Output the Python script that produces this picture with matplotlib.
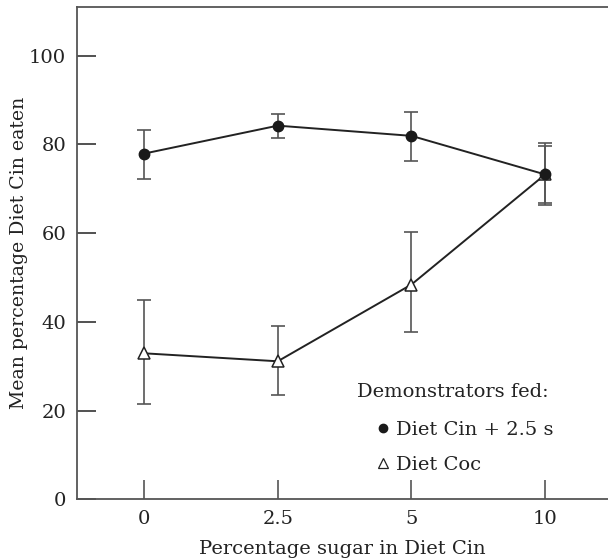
import numpy as np
import matplotlib
matplotlib.use("Agg")
import matplotlib.pyplot as plt
from matplotlib.lines import Line2D

plt.rcParams['font.family'] = ['DejaVu Serif']

# sugar levels (categorical positions on x)
sugar = ['0', '2.5', '5', '10']

# demonstrators fed Diet Cin + 2.5 s
cin_mean = [77.9, 84.2, 81.9, 73.2]
cin_hi = [83.3, 86.8, 87.2, 80.3]
cin_lo = [72.1, 81.4, 76.3, 66.8]

# demonstrators fed Diet Coc
coc_mean = [32.9, 31.1, 48.4, 73.2]
coc_hi = [44.9, 39.0, 60.2, 79.6]
coc_lo = [21.5, 23.5, 37.6, 66.4]

yticks = [0, 20, 40, 60, 80, 100]

fig = plt.figure(figsize=(6.08, 5.60), dpi=100)
ax = fig.add_axes([0.127, 0.1084, 0.873, 0.8796])

x = np.arange(len(sugar))
cin_err = [np.array(cin_mean) - np.array(cin_lo), np.array(cin_hi) - np.array(cin_mean)]
coc_err = [np.array(coc_mean) - np.array(coc_lo), np.array(coc_hi) - np.array(coc_mean)]

ax.errorbar(x, coc_mean, yerr=coc_err, fmt='-', color='#222222', lw=1.4,
            ecolor='#555555', elinewidth=1.2, capsize=4.7, capthick=1.2, zorder=2)
ax.plot(x, coc_mean, linestyle='none', marker='^', ms=8.5, mfc='white',
        mec='#222222', mew=1.1, zorder=3)
ax.errorbar(x, cin_mean, yerr=cin_err, fmt='-', color='#222222', lw=1.4,
            ecolor='#555555', elinewidth=1.2, capsize=4.7, capthick=1.2, zorder=4)
ax.plot(x, cin_mean, linestyle='none', marker='o', ms=7.5, mfc='#1a1a1a',
        mec='#1a1a1a', zorder=5)

ax.set_xlim(-0.5, 3.47)
ax.set_ylim(0, 111)
ax.set_xticks(x)
ax.set_xticklabels(sugar)
ax.set_yticks(yticks)

for side in ['left', 'top', 'bottom']:
    ax.spines[side].set_color('#555555')
    ax.spines[side].set_linewidth(1.3)
ax.spines['right'].set_visible(False)

ax.tick_params(axis='both', direction='in', length=14, width=1.2,
               color='#333333', labelsize=14, colors='#222222')
ax.tick_params(axis='y', pad=8)
ax.tick_params(axis='x', pad=8, color='#555555')

ax.set_xlabel('Percentage sugar in Diet Cin', fontsize=14, color='#222222', labelpad=8)
ax.set_ylabel('Mean percentage Diet Cin eaten', fontsize=13.6, color='#222222',
              va='center')
ax.yaxis.set_label_coords(-0.11, 0.5)

fig.text(357 / 608, 1 - 392 / 560, 'Demonstrators fed:', fontsize=14,
         color='#222222', ha='left', va='center')
handles = [Line2D([], [], linestyle='none', marker='o', ms=6, mfc='#1a1a1a', mec='#1a1a1a'),
           Line2D([], [], linestyle='none', marker='^', ms=6.5, mfc='white', mec='#222222', mew=0.9)]
leg = ax.legend(handles, ['Diet Cin + 2.5 s', 'Diet Coc'], frameon=False, fontsize=14,
                loc='upper left', bbox_to_anchor=(378 / 608, 1 - 421 / 560),
                bbox_transform=fig.transFigure, borderpad=0, borderaxespad=0,
                handlelength=0.5, handletextpad=0.45, labelspacing=0.85)
for t in leg.get_texts():
    t.set_color('#222222')

fig.savefig('out.png', dpi=100)
